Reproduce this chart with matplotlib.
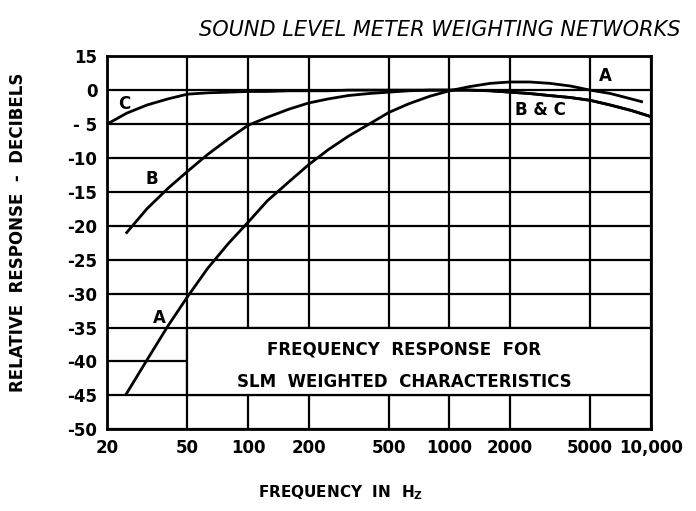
import numpy as np
import matplotlib.pyplot as plt
from matplotlib.patches import Rectangle

# values (frequency in Hz, response in dB)
freq_a = [25, 31.5, 40, 50, 63, 80, 100, 125, 160, 200, 250, 315, 400, 500, 630, 800,
          1000, 1250, 1600, 2000, 2500, 3150, 4000, 5000, 6300, 8000, 9000]
a_weight = [-44.7, -39.8, -34.8, -30.5, -26.3, -22.6, -19.5, -16.3, -13.5, -11.0, -8.8, -6.8,
            -5.0, -3.3, -2.0, -0.9, -0.1, 0.5, 1.0, 1.2, 1.2, 1.0, 0.6, 0.0, -0.5, -1.3, -1.7]

freq_b = [25, 31.5, 40, 50, 63, 80, 100, 125, 160, 200, 250, 315, 400, 500, 630, 800,
          1000, 1250, 1600, 2000, 2500, 3150, 4000, 5000, 6300, 8000, 10000]
b_weight = [-21.0, -17.5, -14.5, -12.0, -9.5, -7.2, -5.2, -4.0, -2.8, -1.9, -1.3, -0.8,
            -0.5, -0.3, -0.1, 0.0, 0.0, 0.0, -0.1, -0.3, -0.5, -0.8, -1.1, -1.5, -2.2, -3.0, -3.9]

freq_c = [20, 25, 31.5, 40, 50, 63, 80, 100, 125, 160, 200, 250, 315, 400, 500, 630, 800,
          1000, 1250, 1600, 2000, 2500, 3150, 4000, 5000, 6300, 8000, 10000]
c_weight = [-5.0, -3.4, -2.2, -1.3, -0.6, -0.4, -0.3, -0.2, -0.2, -0.1, -0.1, -0.1, 0.0,
            0.0, 0.0, 0.0, 0.0, 0.0, 0.0, -0.1, -0.3, -0.5, -0.8, -1.1, -1.5, -2.2, -3.0, -3.9]

x_ticks = [20, 50, 100, 200, 500, 1000, 2000, 5000, 10000]
x_ticklabels = ["20", "50", "100", "200", "500", "1000", "2000", "5000", "10,000"]
y_ticks = [15, 0, -5, -10, -15, -20, -25, -30, -35, -40, -45, -50]
y_ticklabels = ["15", "0", "- 5", "-10", "-15", "-20", "-25", "-30", "-35", "-40", "-45", "-50"]


# the band above 0 dB is squeezed on the original sheet (15 sits one grid step up)
def squeeze(y):
    y = np.asarray(y, dtype=float)
    return np.where(y > 2, 2 + (y - 2) * 3 / 13, y)


def unsqueeze(y):
    y = np.asarray(y, dtype=float)
    return np.where(y > 2, 2 + (y - 2) * 13 / 3, y)


plt.rcParams['font.family'] = 'DejaVu Sans'

fig = plt.figure(figsize=(6.96, 5.11), dpi=100)
ax = fig.add_axes([0.154, 0.160, 0.781, 0.730])

ax.set_xscale('log')
ax.set_yscale('function', functions=(squeeze, unsqueeze))
ax.set_xlim(20, 10000)
ax.set_ylim(-50, 15)

ax.set_xticks(x_ticks)
ax.set_xticklabels(x_ticklabels, fontsize=12, fontweight='bold')
ax.xaxis.set_minor_locator(plt.NullLocator())
ax.set_yticks(y_ticks)
ax.set_yticklabels(y_ticklabels, fontsize=12, fontweight='bold')
ax.yaxis.set_minor_locator(plt.NullLocator())
ax.tick_params(length=0, pad=7)

ax.set_axisbelow(True)
ax.grid(True, color='black', linewidth=1.6)
for sp in ax.spines.values():
    sp.set_linewidth(2.0)

# caption box sits over the grid
box = Rectangle((50, -45), 10000 - 50, 10, facecolor='white', edgecolor='black',
                linewidth=1.6, zorder=1.5)
ax.add_patch(box)
ax.text(0.546, -38.2, "FREQUENCY  RESPONSE  FOR", transform=ax.get_yaxis_transform(),
        ha='center', va='center', fontsize=12, fontweight='bold', zorder=4)
ax.text(0.546, -43.0, "SLM  WEIGHTED  CHARACTERISTICS", transform=ax.get_yaxis_transform(),
        ha='center', va='center', fontsize=12, fontweight='bold', zorder=4)

ax.plot(freq_a, a_weight, color='black', linewidth=2.0, zorder=3)
ax.plot(freq_b, b_weight, color='black', linewidth=2.0, zorder=3)
ax.plot(freq_c, c_weight, color='black', linewidth=2.0, zorder=3)

ax.text(24.3, -2.1, "C", fontsize=12, fontweight='bold', ha='center', va='center')
ax.text(33.4, -13.1, "B", fontsize=12, fontweight='bold', ha='center', va='center')
ax.text(36.3, -33.6, "A", fontsize=12, fontweight='bold', ha='center', va='center')
ax.text(5980, 2.2, "A", fontsize=12, fontweight='bold', ha='center', va='center')
ax.text(2820, -2.9, "B & C", fontsize=12, fontweight='bold', ha='center', va='center')

fig.text(0.632, 0.941, "SOUND LEVEL METER WEIGHTING NETWORKS", fontsize=15,
         style='italic', ha='center', va='center')
fig.text(0.026, 0.546, "RELATIVE  RESPONSE  -  DECIBELS", rotation=90, fontsize=12,
         fontweight='bold', ha='center', va='center')
fig.text(0.49, 0.035, r"FREQUENCY  IN  H$_\mathbf{Z}$", fontsize=11,
         fontweight='bold', ha='center', va='center')

fig.savefig("out.png", dpi=100)
